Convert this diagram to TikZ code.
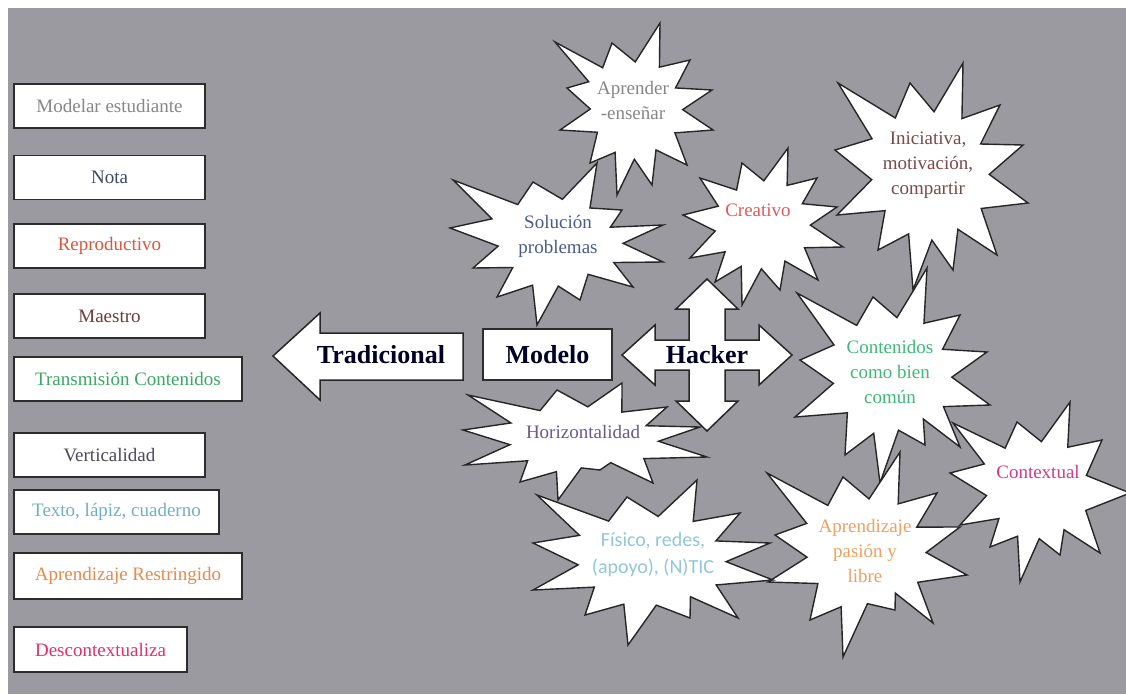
\documentclass[tikz,border=0pt]{standalone}
\usepackage{fontspec}
\setmainfont{Liberation Serif}
\usetikzlibrary{calc}
\definecolor{bgc}{RGB}{155,154,160}
\definecolor{boxline}{RGB}{45,45,45}
\definecolor{cModelar}{RGB}{135,135,135}
\definecolor{cNota}{RGB}{60,72,102}
\definecolor{cRepro}{RGB}{216,88,60}
\definecolor{cMaestro}{RGB}{110,58,58}
\definecolor{cTrans}{RGB}{58,168,99}
\definecolor{cVert}{RGB}{74,74,90}
\definecolor{cTexto}{RGB}{111,176,200}
\definecolor{cAprR}{RGB}{232,138,74}
\definecolor{cDesc}{RGB}{224,48,110}
\definecolor{cAprEns}{RGB}{135,135,135}
\definecolor{cSol}{RGB}{74,92,140}
\definecolor{cCrea}{RGB}{224,90,90}
\definecolor{cInic}{RGB}{122,74,74}
\definecolor{cCont}{RGB}{64,184,120}
\definecolor{cCtx}{RGB}{208,58,138}
\definecolor{cAprP}{RGB}{240,160,96}
\definecolor{cHor}{RGB}{106,90,138}
\definecolor{cFis}{RGB}{144,200,216}
\newcommand\burstk{0.62}
\newcommand\drawburst[5]{%
  \filldraw[burstsh] (#3,#4)
  \foreach \x/\y [remember=\x as \px (initially #3), remember=\y as \py (initially #4)] in {#5}
  { -- ($(#1,#2)!\burstk!($(\px,\py)!0.5!(\x,\y)$)$) -- (\x,\y) } -- cycle;}
\begin{document}
\begin{tikzpicture}[x=1pt,y=-1pt,
  lbox/.style={draw=boxline, line width=1.8pt, fill=white, minimum height=44pt, inner sep=0pt, font=\rmfamily\fontsize{19}{23}\selectfont},
  burstsh/.style={fill=white, draw=black!85, line width=1.4pt, line join=miter},
  btxt/.style={align=center, font=\rmfamily\fontsize{19}{25}\selectfont, inner sep=0pt},
  bigtxt/.style={font=\rmfamily\bfseries\fontsize{26}{30}\selectfont, text=black!85!blue},
  arrowsh/.style={fill=white, draw=black!85, line width=1.5pt, line join=miter}]
\useasboundingbox (0,0) rectangle (1126,694);
\fill[white] (0,0) rectangle (1126,694);
\fill[bgc] (8,8) rectangle (1126,694);

% left column
\node[lbox, minimum width=191pt, text=cModelar] (b1) at (109.5,106) {Modelar estudiante};
\node[lbox, minimum width=191pt, text=cNota] (b2) at (109.5,177.5) {Nota};
\node[lbox, minimum width=191pt, text=cRepro] (b3) at (109.5,246) {Reproductivo};
\node[lbox, minimum width=191pt, text=cMaestro] (b4) at (109.5,316) {Maestro};
\node[lbox, minimum width=228pt, text=cTrans] (b5) at (128,379) {Transmisión Contenidos};
\node[lbox, minimum width=191pt, text=cVert] (b6) at (109.5,455) {Verticalidad};
\node[lbox, minimum width=205pt, text=cTexto] (b7) at (116.5,512) {Texto, lápiz, cuaderno};
\node[lbox, minimum width=228pt, minimum height=46pt, text=cAprR] (b8) at (128,576) {Aprendizaje Restringido};
\node[lbox, minimum width=173pt, minimum height=45pt, text=cDesc] (b9) at (100.5,649.5) {Descontextualiza};

% starbursts
\drawburst{634}{109}{612}{43}{660/23, 690/60, 712/90, 713/130, 687/165, 652/185, 617/195, 590/163, 560/130, 567/88, 555/42, 612/43}
\drawburst{558}{243}{453}{180}{533/182, 597/163, 622/210, 663/225, 663/262, 633/287, 580/300, 537/325, 497/297, 473/268, 450/228, 453/180}
\drawburst{762}{222}{788}{148}{817/178, 837/207, 843/247, 818/280, 780/290, 742/305, 715/282, 690/258, 683/215, 700/178, 742/163, 788/148}
\drawburst{930}{175}{963}{63}{1000/105, 1023/145, 1028/203, 997/255, 953/270, 913/290, 878/250, 837/215, 835/150, 838/83, 910/83, 963/63}
\drawburst{892}{375}{927}{268}{960/315, 987/352, 990/405, 960/447, 925/445, 880/483, 845/455, 795/417, 800/360, 797/293, 873/297, 927/268}
\drawburst{1038}{490}{1070}{402}{1102/440, 1130/493, 1100/553, 1060/555, 1020/582, 990/547, 960/525, 950/473, 953/423, 1017/422, 1070/402}
\drawburst{865}{555}{900}{452}{937/493, 960/527, 967/575, 933/623, 895/610, 843/657, 810/620, 768/582, 775/535, 767/473, 843/477, 900/452}
\drawburst{585}{440}{557}{390}{622/383, 667/407, 700/427, 707/457, 653/483, 600/470, 558/500, 520/482, 465/465, 463/430, 468/395, 557/390}
\drawburst{652}{562}{697}{480}{740/513, 770/543, 773/580, 738/618, 690/618, 628/645, 585/615, 533/590, 533/543, 537/495, 627/497, 697/480}

% Tradicional arrow
\filldraw[arrowsh] (273,356) -- (320,313) -- (320,333) -- (463,333) -- (463,380) -- (320,380) -- (320,400) -- cycle;
\node[bigtxt] (trad) at (381,355) {Tradicional};

% Modelo box
\node[draw=boxline, line width=1.6pt, fill=white, minimum width=129pt, minimum height=51pt, inner sep=0pt, bigtxt] (modelo) at (547.5,354.5) {Modelo};

% Hacker cross arrow
\filldraw[arrowsh] (622,355) -- (655,325) -- (655,340) -- (689,340) -- (689,309) -- (676,309) -- (707,279) -- (738,309) -- (725,309) -- (725,340) -- (759,340) -- (759,325) -- (792,355) -- (759,385) -- (759,370) -- (725,370) -- (725,401) -- (738,401) -- (707,431) -- (676,401) -- (689,401) -- (689,370) -- (655,370) -- (655,385) -- cycle;
\node[bigtxt] (hacker) at (707,355) {Hacker};

% starburst texts
\node[btxt, text=cAprEns] (t1) at (633,100) {Aprender\\-enseñar};
\node[btxt, text=cSol] (t2) at (558,236) {Solución\\problemas};
\node[btxt, text=cCrea] (t3) at (758,210) {Creativo};
\node[btxt, text=cInic] (t4) at (928,165) {Iniciativa,\\motivación,\\compartir};
\node[btxt, text=cCont] (t5) at (890,372) {Contenidos\\como bien\\común};
\node[btxt, text=cCtx] (t6) at (1038,472) {Contextual};
\node[btxt, text=cAprP] (t7) at (865,551) {Aprendizaje\\pasión y\\libre};
\node[btxt, text=cHor] (t8) at (583,432) {Horizontalidad};
\node[btxt, text=cFis, font=\fontspec{Carlito}\fontsize{20}{27}\selectfont] (t9) at (653,555) {Físico, redes,\\(apoyo), (N)TIC};
\end{tikzpicture}
\end{document}
